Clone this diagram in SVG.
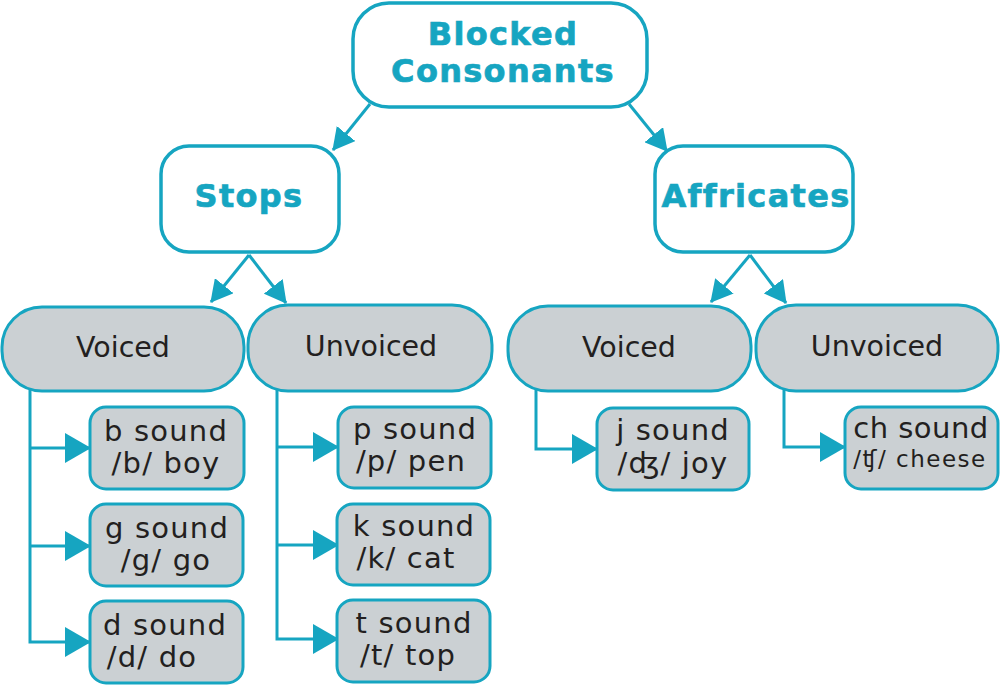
<svg xmlns="http://www.w3.org/2000/svg" width="1000" height="685" viewBox="0 0 1000 685">
<style>
.top{fill:#ffffff;stroke:#16a5c1;stroke-width:3.5}
.pill{fill:#cbd0d3;stroke:#16a5c1;stroke-width:3}
.leaf{fill:#cbd0d3;stroke:#16a5c1;stroke-width:3}
.tt{font-family:"DejaVu Sans","Liberation Sans",sans-serif;font-weight:bold;font-size:32px;letter-spacing:1.3px;fill:#16a5c1;stroke:#16a5c1;stroke-width:0.7px;text-anchor:middle}
.pt{font-family:"DejaVu Sans","Liberation Sans",sans-serif;font-size:28.5px;fill:#231f20;text-anchor:middle}
.lt{font-family:"DejaVu Sans","Liberation Sans",sans-serif;font-size:29px;letter-spacing:1.2px;fill:#231f20;text-anchor:middle}
.con{fill:none;stroke:#16a5c1;stroke-width:3}
</style>
<defs>
<marker id="ad" markerUnits="userSpaceOnUse" markerWidth="22" markerHeight="24" refX="21" refY="12" orient="auto" viewBox="0 0 22 24">
<path d="M0,0 L22,12 L0,24 z" fill="#16a5c1"/>
</marker>
<marker id="ah" markerUnits="userSpaceOnUse" markerWidth="26" markerHeight="32" refX="25" refY="16" orient="auto" viewBox="0 0 26 32">
<path d="M0,1 L26,16 L0,31 z" fill="#16a5c1"/>
</marker>
</defs>
<g id="connectors">
<line class="con" x1="370" y1="104" x2="333" y2="150" marker-end="url(#ad)"/>
<line class="con" x1="629" y1="104" x2="667" y2="151" marker-end="url(#ad)"/>
<line class="con" x1="249" y1="255" x2="211" y2="302" marker-end="url(#ad)"/>
<line class="con" x1="249" y1="255" x2="286" y2="303" marker-end="url(#ad)"/>
<line class="con" x1="750" y1="255" x2="711" y2="302" marker-end="url(#ad)"/>
<line class="con" x1="750" y1="255" x2="786" y2="303" marker-end="url(#ad)"/>
<path class="con" d="M30,390 V642 H90" marker-end="url(#ah)"/>
<path class="con" d="M30,448 H90" marker-end="url(#ah)"/>
<path class="con" d="M30,546 H90" marker-end="url(#ah)"/>
<path class="con" d="M277,390 V639 H338" marker-end="url(#ah)"/>
<path class="con" d="M277,447 H338" marker-end="url(#ah)"/>
<path class="con" d="M277,545 H338" marker-end="url(#ah)"/>
<path class="con" d="M536,390 V449 H597" marker-end="url(#ah)"/>
<path class="con" d="M784,390 V447 H845" marker-end="url(#ah)"/>
</g>
<g id="blocked">
<rect class="top" x="353" y="3" width="294" height="104" rx="36"/>
<text class="tt" x="503" y="45">Blocked</text>
<text class="tt" x="503" y="82">Consonants</text>
</g>
<g id="stops">
<rect class="top" x="161" y="146" width="178" height="106" rx="28"/>
<text class="tt" x="249" y="207">Stops</text>
</g>
<g id="affricates">
<rect class="top" x="655" y="146" width="198" height="106" rx="28"/>
<text class="tt" x="756" y="207">Affricates</text>
</g>
<g id="voiced-stops">
<rect class="pill" x="2" y="307" width="242" height="84" rx="40"/>
<text class="pt" x="123" y="357">Voiced</text>
</g>
<g id="unvoiced-stops">
<rect class="pill" x="248" y="305" width="244" height="86" rx="40"/>
<text class="pt" x="371" y="356">Unvoiced</text>
</g>
<g id="voiced-affricates">
<rect class="pill" x="508" y="306" width="243" height="85" rx="40"/>
<text class="pt" x="629" y="357">Voiced</text>
</g>
<g id="unvoiced-affricates">
<rect class="pill" x="756" y="305" width="242" height="86" rx="40"/>
<text class="pt" x="877" y="356">Unvoiced</text>
</g>
<g id="b">
<rect class="leaf" x="90" y="407" width="154" height="82" rx="16"/>
<text class="lt" x="166" y="441">b sound</text>
<text class="lt" x="166" y="473">/b/ boy</text>
</g>
<g id="g">
<rect class="leaf" x="90" y="504" width="153" height="82" rx="16"/>
<text class="lt" x="167" y="538">g sound</text>
<text class="lt" x="166" y="570">/g/ go</text>
</g>
<g id="d">
<rect class="leaf" x="90" y="601" width="153" height="82" rx="16"/>
<text class="lt" x="165" y="635">d sound</text>
<text class="lt" x="152" y="667">/d/ do</text>
</g>
<g id="p">
<rect class="leaf" x="338" y="407" width="153" height="81" rx="16"/>
<text class="lt" x="415" y="439">p sound</text>
<text class="lt" x="411" y="471">/p/ pen</text>
</g>
<g id="k">
<rect class="leaf" x="337" y="504" width="153" height="81" rx="16"/>
<text class="lt" x="414" y="536">k sound</text>
<text class="lt" x="406" y="568">/k/ cat</text>
</g>
<g id="t">
<rect class="leaf" x="337" y="600" width="153" height="82" rx="16"/>
<text class="lt" x="414" y="633">t sound</text>
<text class="lt" x="408" y="665">/t/ top</text>
</g>
<g id="j">
<rect class="leaf" x="597" y="408" width="152" height="82" rx="16"/>
<text class="lt" x="673" y="440">j sound</text>
<text class="lt" x="673" y="473">/ʤ/ joy</text>
</g>
<g id="ch">
<rect class="leaf" x="845" y="407" width="153" height="82" rx="16"/>
<text class="lt" x="921" y="438" style="letter-spacing:0.5px">ch sound</text>
<text class="lt" x="920" y="467" style="font-size:23px;letter-spacing:1.5px">/ʧ/ cheese</text>
</g>
</svg>
